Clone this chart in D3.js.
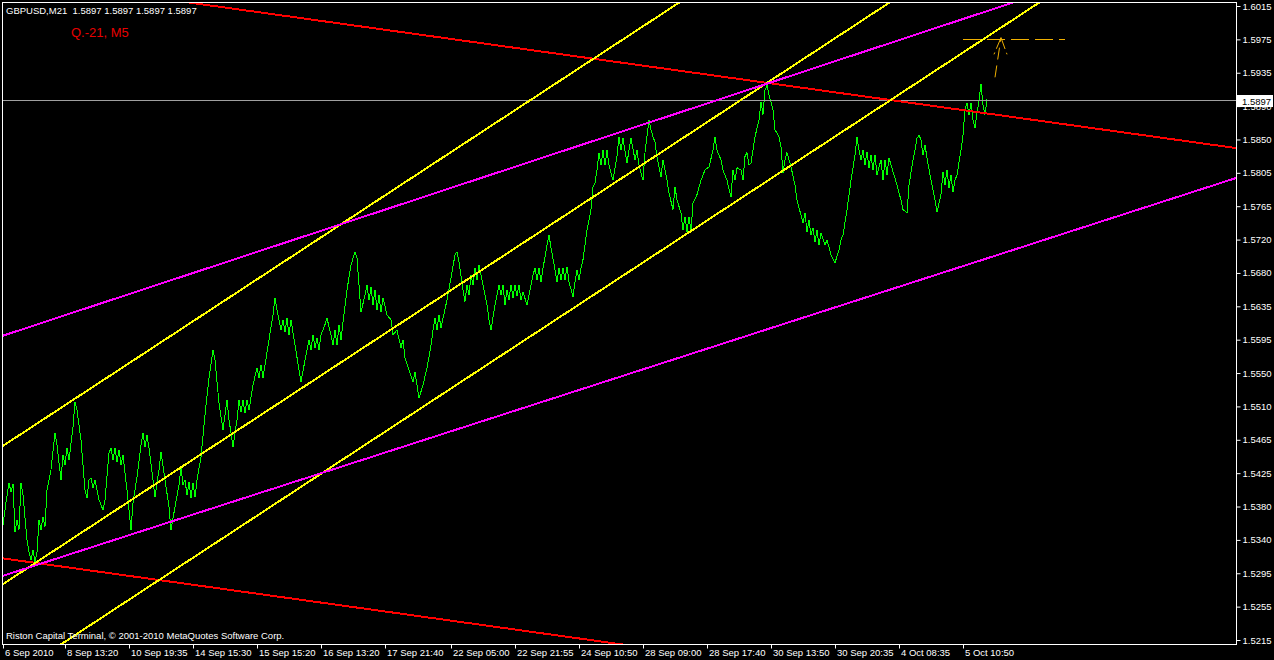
<!DOCTYPE html>
<html><head><meta charset="utf-8">
<script src="https://cdn.jsdelivr.net/npm/d3@7/dist/d3.min.js"></script>
<style>
html,body{margin:0;padding:0;background:#000;}
svg{display:block;}
text{font-family:"Liberation Sans",Arial,sans-serif;white-space:pre;}
</style></head><body>
<svg id="c" width="1274" height="660"></svg>
<script>
// ---------- data ----------
const symbolTitle = "GBPUSD,M21  1.5897 1.5897 1.5897 1.5897";
const chartNote = "Q.-21, M5";
const footerText = "Riston Capital Terminal, \u00A9 2001-2010 MetaQuotes Software Corp.";
const lastPrice = 1.5897;
const priceRange = [1.5215, 1.6015];
const barRange = [0, 492];

const yTickLabels = ["1.6015","1.5975","1.5935","1.5890","1.5850","1.5805","1.5765","1.5720","1.5680","1.5635",
  "1.5595","1.5550","1.5510","1.5465","1.5425","1.5380","1.5340","1.5295","1.5255","1.5215"];

const xTickBars = [0, 31, 63, 95, 127, 159, 191, 224, 256, 288, 320, 352, 384, 416, 448, 480];
const xTickLabels = ["6 Sep 2010","8 Sep 13:20","10 Sep 19:35","14 Sep 15:30","15 Sep 15:20","16 Sep 13:20",
  "17 Sep 21:40","22 Sep 05:00","22 Sep 21:55","24 Sep 10:50","28 Sep 09:00","28 Sep 17:40",
  "30 Sep 13:50","30 Sep 20:35","4 Oct 08:35","5 Oct 10:50"];

// close prices at swing / turning bars
const swingBars = [
  0, 1.5, 3, 4, 5, 6, 7, 8, 9, 10,
  12, 13, 14, 15, 16, 17, 18, 19, 20, 21,
  22, 24, 26, 27, 29, 30, 31, 32, 33, 35,
  36, 37, 39, 41, 42, 43, 44, 45, 46, 48,
  50, 51, 53, 54, 55, 56, 57, 58, 59, 60,
  62, 64, 65, 67, 69, 70, 71, 72, 73, 75,
  76, 78, 79, 81, 83, 84, 86, 88, 89, 90,
  91, 92, 93, 94, 95, 96, 97, 99, 101, 103,
  105, 106, 108, 110, 111, 112, 113, 115, 117, 118,
  119, 120, 121, 122, 123, 125, 127, 128, 129, 130,
  131, 133, 135, 136, 137, 139, 140, 141, 142, 143,
  144, 146, 148, 149, 151, 153, 154, 155, 156, 157,
  158, 159, 161, 162, 164, 165, 166, 167, 168, 169,
  170, 172, 174, 176, 177, 178, 179, 181, 182, 183,
  184, 185, 186, 187, 188, 189, 190, 192, 194, 195,
  197, 199, 200, 201, 203, 205, 206, 208, 210, 212,
  214, 215, 216, 217, 218, 219, 220, 222, 224, 226,
  227, 228, 230, 231, 232, 233, 234, 235, 236, 237,
  238, 240, 242, 243, 244, 246, 248, 249, 250, 251,
  252, 253, 254, 255, 256, 257, 258, 259, 260, 262,
  263, 265, 266, 267, 268, 269, 270, 272, 273, 274,
  276, 277, 278, 279, 280, 281, 282, 283, 285, 286,
  287, 288, 289, 290, 292, 294, 295, 296, 297, 298,
  299, 300, 301, 302, 303, 305, 307, 308, 309, 310,
  312, 313, 314, 316, 317, 318, 320, 321, 323, 324,
  325, 326, 327, 329, 330, 332, 333, 335, 336, 337,
  339, 340, 341, 342, 343, 344, 345, 347, 349, 351,
  353, 355, 356, 357, 359, 360, 362, 364, 365, 366,
  367, 369, 370, 371, 372, 373, 374, 376, 378, 379,
  380, 381, 382, 383, 385, 386, 388, 389, 390, 391,
  392, 394, 396, 397, 399, 400, 401, 402, 403, 404,
  405, 406, 407, 408, 409, 411, 412, 414, 416, 418,
  419, 420, 422, 424, 426, 427, 428, 429, 430, 431,
  432, 433, 434, 435, 436, 437, 439, 440, 441, 442,
  443, 445, 447, 449, 450, 452, 453, 455, 456, 457,
  458, 459, 460, 461, 462, 464, 466, 467, 469, 470,
  471, 472, 473, 474, 475, 476, 477, 479, 480, 481,
  482, 483, 484, 485, 486, 487, 488, 489, 490, 491,
  492];
const swingCloses = [
  1.5360, 1.5389, 1.5413, 1.5402, 1.5412, 1.5351, 1.5366, 1.5354, 1.5413, 1.5398,
  1.5341, 1.5326, 1.5316, 1.5329, 1.5313, 1.5326, 1.5366, 1.5354, 1.5370, 1.5358,
  1.5404, 1.5430, 1.5476, 1.5461, 1.5417, 1.5448, 1.5436, 1.5457, 1.5442, 1.5484,
  1.5515, 1.5505, 1.5467, 1.5404, 1.5394, 1.5417, 1.5419, 1.5407, 1.5417, 1.5392,
  1.5379, 1.5392, 1.5451, 1.5457, 1.5442, 1.5457, 1.5440, 1.5455, 1.5436, 1.5448,
  1.5404, 1.5354, 1.5388, 1.5421, 1.5461, 1.5476, 1.5459, 1.5474, 1.5457, 1.5417,
  1.5395, 1.5430, 1.5452, 1.5417, 1.5383, 1.5354, 1.5383, 1.5411, 1.5432, 1.5411,
  1.5417, 1.5398, 1.5414, 1.5394, 1.5413, 1.5395, 1.5417, 1.5446, 1.5499, 1.5546,
  1.5581, 1.5568, 1.5514, 1.5480, 1.5499, 1.5518, 1.5493, 1.5459, 1.5493, 1.5518,
  1.5503, 1.5518, 1.5501, 1.5518, 1.5505, 1.5537, 1.5558, 1.5546, 1.5562, 1.5546,
  1.5562, 1.5594, 1.5625, 1.5647, 1.5631, 1.5606, 1.5619, 1.5604, 1.5621, 1.5600,
  1.5619, 1.5587, 1.5556, 1.5541, 1.5568, 1.5594, 1.5581, 1.5600, 1.5584, 1.5596,
  1.5581, 1.5600, 1.5613, 1.5621, 1.5600, 1.5587, 1.5606, 1.5587, 1.5613, 1.5594,
  1.5616, 1.5657, 1.5688, 1.5705, 1.5697, 1.5663, 1.5629, 1.5650, 1.5663, 1.5644,
  1.5660, 1.5638, 1.5657, 1.5631, 1.5650, 1.5629, 1.5647, 1.5625, 1.5619, 1.5600,
  1.5606, 1.5584, 1.5594, 1.5571, 1.5556, 1.5541, 1.5553, 1.5520, 1.5537, 1.5558,
  1.5587, 1.5606, 1.5621, 1.5606, 1.5625, 1.5609, 1.5621, 1.5644, 1.5672, 1.5701,
  1.5705, 1.5692, 1.5657, 1.5642, 1.5663, 1.5650, 1.5676, 1.5663, 1.5684, 1.5669,
  1.5688, 1.5663, 1.5638, 1.5619, 1.5606, 1.5638, 1.5663, 1.5650, 1.5663, 1.5638,
  1.5657, 1.5644, 1.5663, 1.5647, 1.5663, 1.5649, 1.5663, 1.5644, 1.5654, 1.5638,
  1.5650, 1.5676, 1.5684, 1.5669, 1.5684, 1.5667, 1.5684, 1.5713, 1.5726, 1.5710,
  1.5682, 1.5667, 1.5684, 1.5669, 1.5684, 1.5669, 1.5686, 1.5667, 1.5648, 1.5667,
  1.5682, 1.5669, 1.5684, 1.5695, 1.5732, 1.5758, 1.5787, 1.5792, 1.5808, 1.5830,
  1.5814, 1.5833, 1.5814, 1.5833, 1.5814, 1.5795, 1.5825, 1.5850, 1.5833, 1.5848,
  1.5817, 1.5833, 1.5848, 1.5821, 1.5833, 1.5814, 1.5795, 1.5830, 1.5871, 1.5859,
  1.5850, 1.5843, 1.5825, 1.5799, 1.5821, 1.5795, 1.5779, 1.5758, 1.5787, 1.5770,
  1.5754, 1.5732, 1.5749, 1.5730, 1.5749, 1.5730, 1.5766, 1.5777, 1.5795, 1.5808,
  1.5812, 1.5833, 1.5850, 1.5833, 1.5821, 1.5808, 1.5795, 1.5774, 1.5808, 1.5795,
  1.5811, 1.5808, 1.5795, 1.5825, 1.5830, 1.5814, 1.5817, 1.5850, 1.5871, 1.5894,
  1.5878, 1.5909, 1.5915, 1.5903, 1.5884, 1.5859, 1.5850, 1.5837, 1.5804, 1.5821,
  1.5830, 1.5812, 1.5789, 1.5770, 1.5751, 1.5741, 1.5754, 1.5730, 1.5745, 1.5726,
  1.5735, 1.5717, 1.5732, 1.5713, 1.5729, 1.5713, 1.5720, 1.5701, 1.5691, 1.5707,
  1.5720, 1.5726, 1.5758, 1.5795, 1.5827, 1.5850, 1.5833, 1.5821, 1.5833, 1.5814,
  1.5831, 1.5811, 1.5827, 1.5808, 1.5827, 1.5802, 1.5821, 1.5795, 1.5821, 1.5802,
  1.5823, 1.5806, 1.5789, 1.5770, 1.5758, 1.5754, 1.5789, 1.5821, 1.5833, 1.5848,
  1.5852, 1.5846, 1.5827, 1.5840, 1.5823, 1.5795, 1.5770, 1.5755, 1.5777, 1.5806,
  1.5789, 1.5808, 1.5785, 1.5802, 1.5780, 1.5795, 1.5802, 1.5833, 1.5852, 1.5884,
  1.5893, 1.5878, 1.5893, 1.5871, 1.5861, 1.5880, 1.5896, 1.5917, 1.5890, 1.5878,
  1.5897];

// trend lines: two anchor points each (bar, price)
const trendNames  = ["red upper","red lower","yellow upper","yellow middle","yellow lower","magenta upper","magenta lower"];
const trendBar1   = [0, 0, 0, 16, 16, 0, 16];
const trendPrice1 = [1.6052, 1.5318, 1.5460, 1.5312, 1.5188, 1.5599, 1.5309];
const trendBar2   = [382, 382, 382, 382, 382, 382, 382];
const trendPrice2 = [1.5918, 1.5184, 1.6092, 1.5918, 1.5794, 1.5917, 1.5607];

// target annotation
const targetLevel = 1.5973;
const targetBars = [480, 531];
const arrowBars = [496, 499];
const arrowPrices = [1.5925, 1.5975];
const arrowWingBars = [495.5, 502];
const arrowWingPrice = 1.5954;

// ---------- styles ----------
const trendColours = ["#ff0000","#ff0000","#ffff00","#ffff00","#ffff00","#ff00ff","#ff00ff"];
const fg = "#ffffff";
const annotColour = "#f0b000";

// ---------- layout ----------
const plot = {left: 2, top: 2, right: 1236, bottom: 644};
const svg = d3.select("#c");
svg.append("rect").attr("width",1274).attr("height",660).attr("fill","#000");

const x = d3.scaleLinear().domain(barRange).range([3, 987]);
const y = d3.scaleLinear().domain(priceRange).range([640, 6]);

svg.append("defs").append("clipPath").attr("id","clip")
  .append("rect").attr("x",plot.left).attr("y",plot.top)
  .attr("width",plot.right-plot.left).attr("height",plot.bottom-plot.top);

const g = svg.append("g").attr("clip-path","url(#clip)");

// price line (green)
const pts = swingBars.map((b,i)=>[b, swingCloses[i]]);
g.append("path").datum(pts)
  .attr("d", d3.line().x(d=>x(d[0])).y(d=>y(d[1])))
  .attr("fill","none").attr("stroke","#00ff00").attr("stroke-width",1)
  .attr("shape-rendering","crispEdges");

// last price grey line
g.append("line").attr("x1",plot.left).attr("x2",plot.right)
  .attr("y1",Math.round(y(lastPrice))+0.5).attr("y2",Math.round(y(lastPrice))+0.5)
  .attr("stroke","#a0a0a0").attr("stroke-width",1);

// trend lines extended across the plot
const bL = x.invert(plot.left), bR = x.invert(plot.right);
trendNames.forEach((nm,i)=>{
  const s = (trendPrice2[i]-trendPrice1[i])/(trendBar2[i]-trendBar1[i]);
  const pL = trendPrice1[i] + s*(bL-trendBar1[i]);
  const pR = trendPrice1[i] + s*(bR-trendBar1[i]);
  g.append("line").attr("class","trend")
    .attr("x1",x(bL)).attr("y1",y(pL)).attr("x2",x(bR)).attr("y2",y(pR))
    .attr("stroke",trendColours[i]).attr("stroke-width",2)
    .attr("shape-rendering","crispEdges");
});

// target dashed level
g.append("line").attr("x1",x(targetBars[0])).attr("x2",x(targetBars[1]))
  .attr("y1",Math.round(y(targetLevel))+0.5).attr("y2",Math.round(y(targetLevel))+0.5)
  .attr("stroke",annotColour).attr("stroke-width",1).attr("stroke-dasharray","18,6");
// arrow
g.append("line").attr("x1",x(arrowBars[0])).attr("y1",y(arrowPrices[0]))
  .attr("x2",x(arrowBars[1])).attr("y2",y(arrowPrices[1]))
  .attr("stroke",annotColour).attr("stroke-width",1).attr("stroke-dasharray","12,6");
arrowWingBars.forEach(wb=>{
  g.append("line").attr("x1",x(arrowBars[1])).attr("y1",y(arrowPrices[1]))
    .attr("x2",x(wb)).attr("y2",y(arrowWingPrice))
    .attr("stroke",annotColour).attr("stroke-width",1).attr("stroke-dasharray","12,4");
});

// frame
svg.append("rect").attr("x",plot.left+0.5).attr("y",plot.top+0.5)
  .attr("width",plot.right-plot.left).attr("height",plot.bottom-plot.top)
  .attr("fill","none").attr("stroke",fg).attr("stroke-width",1);

// y axis
const yVals = yTickLabels.map((_,i)=> priceRange[1] - i*(priceRange[1]-priceRange[0])/(yTickLabels.length-1));
const yAxis = d3.axisRight(y).tickValues(yVals).tickFormat((d,i)=>yTickLabels[i]).tickSize(4).tickPadding(2);
const ya = svg.append("g").attr("transform",`translate(${plot.right+0.5},0)`).call(yAxis);
ya.select(".domain").remove();
ya.selectAll("line").attr("stroke",fg);
ya.selectAll("text").attr("fill",fg).attr("font-size","9.5px").attr("font-family","Liberation Sans, Arial, sans-serif");

// current price box (drawn over the axis label beneath it, as in the terminal)
const yl = Math.round(y(lastPrice));
svg.append("rect").attr("x",plot.right+1).attr("y",yl-5).attr("width",36).attr("height",12).attr("fill","#ffffff");
svg.append("text").attr("x",plot.right+6).attr("y",yl+4.5).attr("fill","#000").attr("font-size","9.5px")
  .text(lastPrice.toFixed(4));

// x axis
const xAxis = d3.axisBottom(x).tickValues(xTickBars).tickFormat((d,i)=>xTickLabels[i]).tickSize(4).tickPadding(1);
const xa = svg.append("g").attr("transform",`translate(0,${plot.bottom+0.5})`).call(xAxis);
xa.select(".domain").remove();
xa.selectAll("line").attr("stroke",fg);
xa.selectAll("text").attr("fill",fg).attr("font-size","9.5px").attr("text-anchor","start").attr("dx","1.5")
  .attr("font-family","Liberation Sans, Arial, sans-serif");

// texts
svg.append("text").attr("x",6).attr("y",14).attr("fill",fg).attr("font-size","9.5px").text(symbolTitle);
svg.append("text").attr("x",71).attr("y",37).attr("fill","#e80000").attr("font-size","13px").text(chartNote);
svg.append("text").attr("x",6).attr("y",639).attr("fill",fg).attr("font-size","9.5px").text(footerText);
</script>
</body></html>
